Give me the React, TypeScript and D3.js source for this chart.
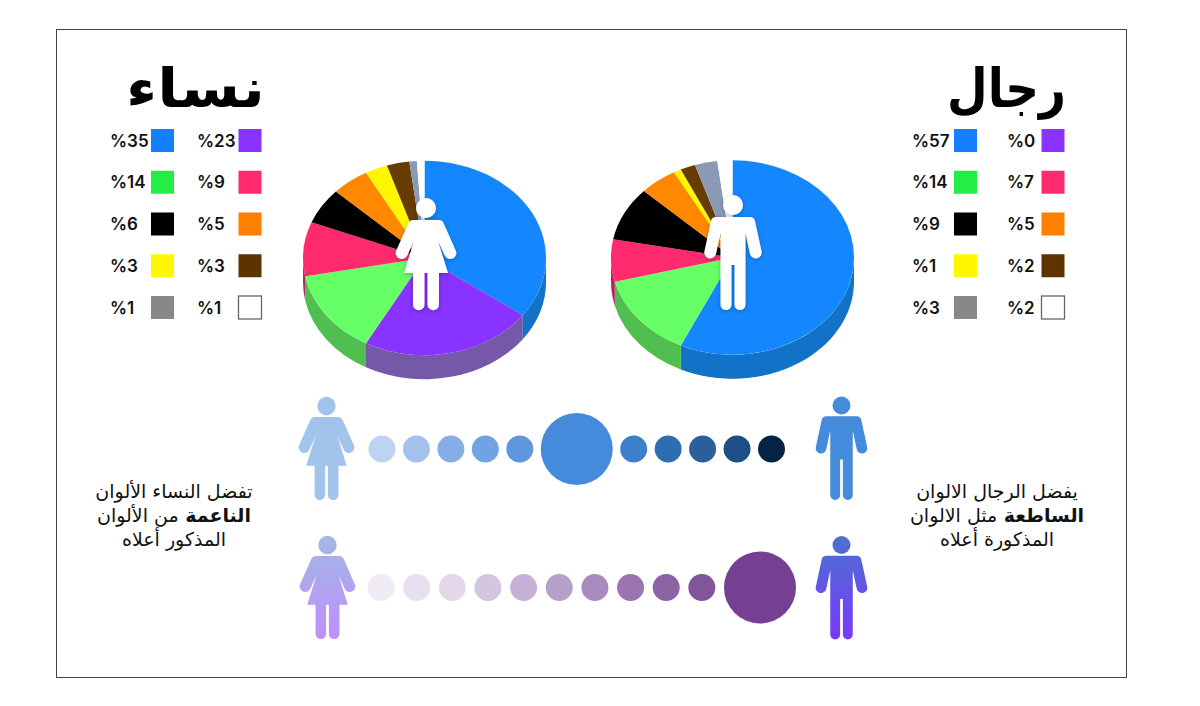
import * as d3 from "d3"

const categories = ["blue", "purple", "green", "pink", "black", "orange", "yellow", "brown", "gray", "white"]
const womenValues = [35, 23, 14, 9, 6, 5, 3, 3, 1, 1]
const menValues = [57, 0, 14, 7, 9, 5, 1, 2, 3, 2]

const topColors = ["#1487ff", "#8833ff", "#66ff66", "#ff2a6d", "#000000", "#ff8800", "#fff700", "#663c00", "#8a9ab5", "#ffffff"]
const sideColors = ["#1272c8", "#7558a8", "#50bf50", "#b5265c", "#000000", "#c06800", "#c0b800", "#4a2c00", "#66738a", "#dddddd"]
const legendColors = ["#1280ff", "#8a33ff", "#22ee44", "#ff2a6d", "#000000", "#ff8000", "#fff700", "#5f3300", "#888888", "#ffffff"]

const brightDotColors = ["#bdd3f2", "#a2c1ec", "#85ade6", "#70a3e4", "#5f96dc", "#458bdb", "#3d7fcb", "#2f6db2", "#2a5f9a", "#1d4e85", "#052344"]
const brightDotSizes = [1, 1, 1, 1, 1, 2, 1, 1, 1, 1, 1]
const softDotColors = ["#f0ebf4", "#e8e0ef", "#e3d8ea", "#d4c5e0", "#c5b0d6", "#b79fcb", "#a98abc", "#9b75af", "#8c63a4", "#82549b", "#763f92"]
const softDotSizes = [1, 1, 1, 1, 1, 1, 1, 1, 1, 1, 2]

const womenTitle = "نساء"
const menTitle = "رجال"
const womenNote = [["تفضل النساء الألوان", ""], ["من الألوان", "الناعمة"], ["المذكور أعلاه", ""]]
const menNote = [["يفضل الرجال الالوان", ""], ["مثل الالوان", "الساطعة"], ["المذكورة أعلاه", ""]]

const arabicFont = "'DejaVu Sans', sans-serif"
const numberFont = "Inter, sans-serif"

const tilt = 0.8
const pieRadius = 121.5
const pieDepth = 24

function Pie3D({ values, cx, cy }: { values: number[], cx: number, cy: number }) {
    const slices = d3.pie<number>().sort(null)(values)
    const arc = d3.arc<d3.PieArcDatum<number>>().innerRadius(0).outerRadius(pieRadius)
    const drop = pieDepth / tilt

    const wall = (s: d3.PieArcDatum<number>) => {
        const a0 = Math.max(s.startAngle, Math.PI / 2) - Math.PI / 2
        const a1 = Math.min(s.endAngle, Math.PI * 1.5) - Math.PI / 2
        if (a0 >= a1) return null
        const p = d3.path()
        p.arc(0, 0, pieRadius, a0, a1, false)
        p.arc(0, drop, pieRadius, a1, a0, true)
        p.closePath()
        return p.toString()
    }

    return <g transform={`translate(${cx},${cy}) scale(1,${tilt})`}>
        {slices.map((s, i) => <path key={"w" + i} d={wall(s) ?? ""} fill={sideColors[i]} />)}
        {slices.map((s, i) => <path key={"t" + i} d={arc(s) ?? ""} fill={topColors[i]} />)}
    </g>
}

function Legend({ values, x0, x1, textX0, textX1 }: { values: number[], x0: number, x1: number, textX0: number, textX1: number }) {
    const rows = d3.scalePoint<number>().domain([0, 1, 2, 3, 4]).range([140.5, 307.5])
    return <g>
        {categories.map((c, i) => {
            const y = rows(Math.floor(i / 2)) ?? 0
            const x = i % 2 === 0 ? x0 : x1
            const tx = i % 2 === 0 ? textX0 : textX1
            return <g key={c}>
                <rect x={x} y={y - 11.5} width={23} height={23} fill={legendColors[i]}
                    stroke={c === "white" ? "#666" : "none"} strokeWidth={1.3} />
                <text x={tx} y={y + 6} fontFamily={numberFont} fontWeight={600} fontSize={17} fill="#111">{"%" + values[i]}</text>
            </g>
        })}
    </g>
}

function DotRow({ colors, sizes, left, right, y }: { colors: string[], sizes: number[], left: number, right: number, y: number }) {
    const r = d3.scaleLinear([1, 2], [13.5, 36])
    const total = d3.sum(sizes, s => r(s) * 2)
    const gap = (right - left - total) / (sizes.length - 1)
    let x = left
    return <g>
        {sizes.map((s, i) => {
            const cx = x + r(s)
            x += r(s) * 2 + gap
            return <circle key={i} cx={cx} cy={y} r={r(s)} fill={colors[i]} />
        })}
    </g>
}

function Woman({ x, y, k, fill, filter }: { x: number, y: number, k: number, fill: string, filter?: string }) {
    return <g transform={`translate(${x},${y}) scale(${k})`} fill={fill} filter={filter}>
        <circle cx={0} cy={0} r={10} />
        <path d="M-13,12 L13,12 Q16,12 17.5,15 L29.5,42 A6,6 0 0 1 19,48 L12,33 L22,65 L-22,65 L-12,33 L-19,48 A6,6 0 0 1 -29.5,42 L-17.5,15 Q-16,12 -13,12 Z" />
        <path d="M-13,60 H-1.5 V96.5 A5.75,5.75 0 0 1 -13,96.5 Z M1.5,60 H13 V96.5 A5.75,5.75 0 0 1 1.5,96.5 Z" />
    </g>
}

function Man({ x, y, k, fill, filter }: { x: number, y: number, k: number, fill: string, filter?: string }) {
    return <g transform={`translate(${x},${y}) scale(${k})`} fill={fill} filter={filter}>
        <circle cx={0} cy={0} r={10} />
        <path d="M-17,12 L17,12 Q21,12 22,16 L28.5,46 A5.8,5.8 0 0 1 17,49 L12.5,28 V99.5 A5.5,5.5 0 0 1 1.5,99.5 V60 H-1.5 V99.5 A5.5,5.5 0 0 1 -12.5,99.5 V28 L-17,49 A5.8,5.8 0 0 1 -28.5,46 L-22,16 Q-21,12 -17,12 Z" />
    </g>
}

function Note({ lines, x, ys }: { lines: string[][], x: number, ys: number[] }) {
    return <g fontFamily={arabicFont} fontSize={19} fill="#111" textAnchor="middle" style={{ direction: "rtl" }}>
        {lines.map((l, i) => <text key={i} x={x} y={ys[i]}>
            {l[1] && <tspan fontWeight={700}>{l[1]} </tspan>}
            <tspan>{l[0]}</tspan>
        </text>)}
    </g>
}

export default function App() {
    return <svg width={1200} height={706} style={{ position: "absolute", left: 0, top: 0 }}>
        <defs>
            <filter id="soft" x="-30%" y="-30%" width="160%" height="160%">
                <feDropShadow dx={0} dy={1} stdDeviation={2} floodColor="#000" floodOpacity={0.3} />
            </filter>
            <linearGradient id="softWoman" gradientUnits="userSpaceOnUse" x1={0} y1={-10} x2={0} y2={102}>
                <stop offset="0" stopColor="#a2b8e4" />
                <stop offset="1" stopColor="#bd90fb" />
            </linearGradient>
            <linearGradient id="softMan" gradientUnits="userSpaceOnUse" x1={0} y1={-10} x2={0} y2={105}>
                <stop offset="0" stopColor="#4a72d0" />
                <stop offset="1" stopColor="#7a38fb" />
            </linearGradient>
        </defs>
        <rect x={56.5} y={29.5} width={1070} height={648} fill="#fff" stroke="#444" strokeWidth={1} />

        <text x={265} y={107} textAnchor="start" fontFamily={arabicFont} fontWeight={700} fontSize={54}
            textLength={139} lengthAdjust="spacingAndGlyphs" style={{ direction: "rtl" }}>{womenTitle}</text>
        <text x={1066} y={107} textAnchor="start" fontFamily={arabicFont} fontWeight={700} fontSize={54}
            textLength={119} lengthAdjust="spacingAndGlyphs" style={{ direction: "rtl" }}>{menTitle}</text>

        <Legend values={womenValues} x0={151} x1={238.5} textX0={110} textX1={197} />
        <Legend values={menValues} x0={954} x1={1041.5} textX0={912} textX1={1007} />

        <Pie3D values={womenValues} cx={424.5} cy={258} />
        <Pie3D values={menValues} cx={732.5} cy={257.5} />
        <Woman x={426} y={208} k={1} fill="#fff" filter="url(#soft)" />
        <Man x={733} y={205} k={1} fill="#fff" filter="url(#soft)" />

        <DotRow colors={brightDotColors} sizes={brightDotSizes} left={368.5} right={785} y={449} />
        <DotRow colors={softDotColors} sizes={softDotSizes} left={367.5} right={796} y={587.5} />

        <Woman x={326.5} y={406} k={0.92} fill="#a2c3ec" />
        <Man x={841.5} y={405.5} k={0.9} fill="#448bdb" />
        <Woman x={327.5} y={545} k={0.92} fill="url(#softWoman)" />
        <Man x={841.5} y={545} k={0.9} fill="url(#softMan)" />

        <Note lines={womenNote} x={174} ys={[498, 522, 546]} />
        <Note lines={menNote} x={997} ys={[498, 522, 546]} />
    </svg>
}
